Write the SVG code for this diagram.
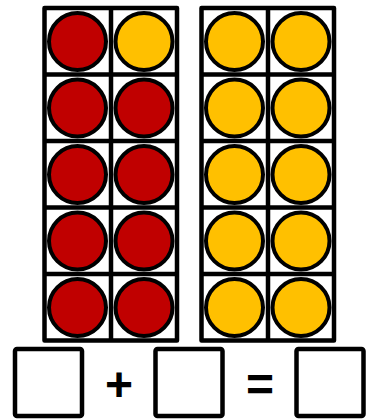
<svg xmlns="http://www.w3.org/2000/svg" width="368" height="419" viewBox="0 0 368 419">
<style>
.grid{fill:#fff;stroke:#000;stroke-width:4.5;stroke-linejoin:round}
.line{stroke:#000;stroke-width:4.5}
.r{fill:#C00000;stroke:#000;stroke-width:4}
.y{fill:#FFC000;stroke:#000;stroke-width:4}
.box{fill:#fff;stroke:#000;stroke-width:4.5}
.op{font-family:"Liberation Sans",Arial,sans-serif;font-weight:bold;font-size:48px;text-anchor:middle}
</style>
<g id="frame-left">
<rect class="grid" x="44.5" y="8" width="132.5" height="332.5"/>
<line class="line" x1="111" y1="8" x2="111" y2="340.5"/>
<line class="line" x1="44.5" y1="74.5" x2="177" y2="74.5"/>
<line class="line" x1="44.5" y1="141" x2="177" y2="141"/>
<line class="line" x1="44.5" y1="207.5" x2="177" y2="207.5"/>
<line class="line" x1="44.5" y1="274" x2="177" y2="274"/>
<circle class="r" cx="77.5" cy="41.5" r="28.5"/>
<circle class="y" cx="144" cy="41.5" r="28.5"/>
<circle class="r" cx="77.5" cy="108" r="28.5"/>
<circle class="r" cx="144" cy="108" r="28.5"/>
<circle class="r" cx="77.5" cy="174.5" r="28.5"/>
<circle class="r" cx="144" cy="174.5" r="28.5"/>
<circle class="r" cx="77.5" cy="241" r="28.5"/>
<circle class="r" cx="144" cy="241" r="28.5"/>
<circle class="r" cx="77.5" cy="307.5" r="28.5"/>
<circle class="r" cx="144" cy="307.5" r="28.5"/>
</g>
<g id="frame-right">
<rect class="grid" x="201.5" y="8" width="132.5" height="332.5"/>
<line class="line" x1="268" y1="8" x2="268" y2="340.5"/>
<line class="line" x1="201.5" y1="74.5" x2="334" y2="74.5"/>
<line class="line" x1="201.5" y1="141" x2="334" y2="141"/>
<line class="line" x1="201.5" y1="207.5" x2="334" y2="207.5"/>
<line class="line" x1="201.5" y1="274" x2="334" y2="274"/>
<circle class="y" cx="234.5" cy="41.5" r="28.5"/>
<circle class="y" cx="301" cy="41.5" r="28.5"/>
<circle class="y" cx="234.5" cy="108" r="28.5"/>
<circle class="y" cx="301" cy="108" r="28.5"/>
<circle class="y" cx="234.5" cy="174.5" r="28.5"/>
<circle class="y" cx="301" cy="174.5" r="28.5"/>
<circle class="y" cx="234.5" cy="241" r="28.5"/>
<circle class="y" cx="301" cy="241" r="28.5"/>
<circle class="y" cx="234.5" cy="307.5" r="28.5"/>
<circle class="y" cx="301" cy="307.5" r="28.5"/>
</g>
<g id="box1"><rect class="box" x="15" y="349" width="67" height="67" rx="2"/></g>
<g id="plus"><text class="op" x="119" y="401">+</text></g>
<g id="box2"><rect class="box" x="155.5" y="349" width="67" height="67" rx="2"/></g>
<g id="equals"><text class="op" x="260" y="401">=</text></g>
<g id="box3"><rect class="box" x="296.5" y="349" width="67" height="67" rx="2"/></g>
<g id="connectors"/>
</svg>
